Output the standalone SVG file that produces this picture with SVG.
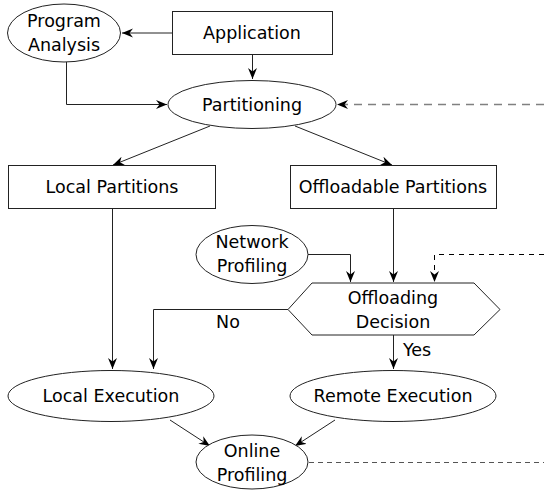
<svg xmlns="http://www.w3.org/2000/svg" width="544" height="490" viewBox="0 0 544 490">
<defs>
<marker id="ah" markerWidth="12" markerHeight="10" refX="11" refY="5" orient="auto" markerUnits="userSpaceOnUse">
<path d="M0,0.5 L11,5 L0,9.5 L3.5,5 Z" fill="#000"/>
</marker>
<style>
.n{fill:#fff;stroke:#222;stroke-width:1}
.t{font-family:"DejaVu Sans",sans-serif;font-size:17.5px;fill:#000;text-anchor:middle}
.c{fill:none;stroke:#222;stroke-width:1}
</style>
</defs>
<rect width="544" height="490" fill="#fff"/>
<g id="connectors">
<path class="c" d="M172,33 H122" marker-end="url(#ah)"/>
<path class="c" d="M252.5,54 V79" marker-end="url(#ah)"/>
<path class="c" d="M66.5,62 V104.5 H167" marker-end="url(#ah)"/>
<path d="M544,104.5 H337" fill="none" stroke="#808080" stroke-width="1.5" stroke-dasharray="8,6" marker-end="url(#ah)"/>
<path class="c" d="M210,126 L113,165" marker-end="url(#ah)"/>
<path class="c" d="M295,126 L392,165" marker-end="url(#ah)"/>
<path class="c" d="M112.5,208 V369" marker-end="url(#ah)"/>
<path class="c" d="M308,254.5 H350.5 V282" marker-end="url(#ah)"/>
<path class="c" d="M393.5,208 V282" marker-end="url(#ah)"/>
<path d="M544,254.5 H434.5 V282" fill="none" stroke="#000" stroke-width="1" stroke-dasharray="5,5" marker-end="url(#ah)"/>
<path class="c" d="M288,309.5 H153.5 V369" marker-end="url(#ah)"/>
<path class="c" d="M393.5,335 V369" marker-end="url(#ah)"/>
<path class="c" d="M170,420 L210,446" marker-end="url(#ah)"/>
<path class="c" d="M335,420 L295,446" marker-end="url(#ah)"/>
<path d="M309,462.5 H544" fill="none" stroke="#555" stroke-width="1" stroke-dasharray="5,4"/>
<text class="t" x="228" y="328">No</text>
<text class="t" x="417" y="356">Yes</text>
</g>
<g id="program-analysis">
<ellipse class="n" cx="64" cy="33" rx="56.5" ry="29"/>
<text class="t" x="64" y="27">Program</text>
<text class="t" x="64" y="51">Analysis</text>
</g>
<g id="application">
<rect class="n" x="172.5" y="11.5" width="160" height="43"/>
<text class="t" x="252" y="39">Application</text>
</g>
<g id="partitioning">
<ellipse class="n" cx="252" cy="104.5" rx="84" ry="24"/>
<text class="t" x="252" y="110.5">Partitioning</text>
</g>
<g id="local-partitions">
<rect class="n" x="8.5" y="165.5" width="207" height="43"/>
<text class="t" x="112" y="193">Local Partitions</text>
</g>
<g id="offloadable-partitions">
<rect class="n" x="290.5" y="165.5" width="206" height="43"/>
<text class="t" x="393" y="193">Offloadable Partitions</text>
</g>
<g id="network-profiling">
<ellipse class="n" cx="252" cy="254.5" rx="56" ry="29"/>
<text class="t" x="252" y="248">Network</text>
<text class="t" x="252" y="272">Profiling</text>
</g>
<g id="offloading-decision">
<polygon class="n" points="312,283 474,283 500,309.5 474,335 312,335 288,309.5"/>
<text class="t" x="393" y="304">Offloading</text>
<text class="t" x="393" y="328">Decision</text>
</g>
<g id="local-execution">
<ellipse class="n" cx="111" cy="396" rx="103" ry="25.5"/>
<text class="t" x="111" y="402">Local Execution</text>
</g>
<g id="remote-execution">
<ellipse class="n" cx="393" cy="396" rx="103" ry="25.5"/>
<text class="t" x="393" y="402">Remote Execution</text>
</g>
<g id="online-profiling">
<ellipse class="n" cx="252" cy="462" rx="56" ry="27"/>
<text class="t" x="252" y="457">Online</text>
<text class="t" x="252" y="481">Profiling</text>
</g>
</svg>
